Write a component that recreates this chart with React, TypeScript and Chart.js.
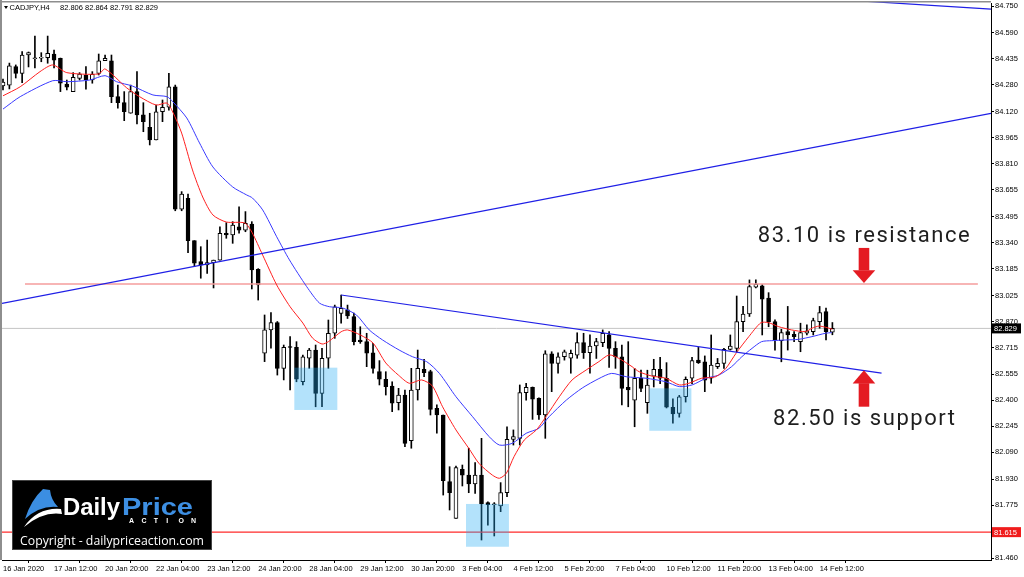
import React, { useEffect, useRef } from "react";
import { Chart, registerables } from "chart.js";

Chart.register(...registerables);

// ---------------- DATA ----------------
const opens = [
  84.274, 84.279, 84.389, 84.349, 84.458, 84.437, 84.44, 84.442, 84.464, 84.439,
  84.285, 84.24, 84.319, 84.339, 84.309, 84.349, 84.424, 84.424, 84.21, 84.174,
  84.111, 84.24, 84.101, 84.027, 83.952, 84.12, 84.147, 84.269, 83.539, 83.604,
  83.352, 83.227, 83.207, 83.221, 83.236, 83.396, 83.386, 83.435, 83.415, 83.45,
  83.181, 82.681, 82.82, 82.863, 82.591, 82.72, 82.716, 82.511, 82.651, 82.7,
  82.442, 82.651, 82.8, 82.919, 82.939, 82.899, 82.76, 82.75, 82.684, 82.571,
  82.526, 82.486, 82.387, 82.432, 82.16, 82.462, 82.585, 82.571, 82.353, 82.313,
  81.916, 81.697, 81.99, 81.955, 81.902, 81.955, 81.791, 81.779, 81.771, 81.85,
  82.168, 82.174, 82.446, 82.478, 82.412, 82.313, 82.677, 82.621, 82.66, 82.651,
  82.67, 82.744, 82.684, 82.724, 82.744, 82.79, 82.71, 82.66, 82.478, 82.402,
  82.532, 82.386, 82.545, 82.585, 82.532, 82.359, 82.323, 82.422, 82.532, 82.64,
  82.63, 82.532, 82.601, 82.621, 82.704, 82.71, 82.869, 82.915, 83.074, 83.082,
  83.009, 82.869, 82.756, 82.81, 82.794, 82.75, 82.8, 82.81, 82.869, 82.929,
  82.806,
];
const highs = [
  84.315, 84.41, 84.399, 84.478, 84.476, 84.571, 84.472, 84.571, 84.488, 84.44,
  84.309, 84.353, 84.353, 84.389, 84.359, 84.464, 84.458, 84.458, 84.279, 84.24,
  84.279, 84.359, 84.174, 84.111, 84.16, 84.19, 84.349, 84.279, 83.644, 83.63,
  83.352, 83.316, 83.356, 83.236, 83.435, 83.459, 83.465, 83.554, 83.525, 83.465,
  83.185, 82.909, 82.923, 82.87, 82.73, 82.78, 82.75, 82.67, 82.71, 82.73,
  82.71, 82.879, 82.968, 83.028, 82.968, 82.92, 82.839, 82.8, 82.74, 82.637,
  82.571, 82.511, 82.472, 82.462, 82.591, 82.7, 82.645, 82.58, 82.373, 82.313,
  82.005, 82.009, 82.015, 82.115, 82.029, 82.174, 81.795, 81.791, 81.91, 82.243,
  82.224, 82.492, 82.502, 82.48, 82.415, 82.696, 82.69, 82.684, 82.7, 82.7,
  82.803, 82.8, 82.79, 82.77, 82.82, 82.81, 82.75, 82.73, 82.75, 82.591,
  82.58, 82.58, 82.645, 82.657, 82.625, 82.41, 82.43, 82.54, 82.657, 82.716,
  82.665, 82.79, 82.65, 82.71, 82.79, 83.022, 82.96, 83.118, 83.118, 83.09,
  83.042, 82.88, 82.824, 82.96, 82.81, 82.86, 82.85, 82.89, 82.96, 82.95,
  82.864,
];
const lows = [
  84.25, 84.256, 84.321, 84.293, 84.387, 84.381, 84.418, 84.409, 84.381, 84.24,
  84.25, 84.24, 84.309, 84.254, 84.29, 84.339, 84.424, 84.174, 84.141, 84.067,
  84.111, 84.047, 84.001, 83.922, 83.952, 84.061, 84.13, 83.53, 83.53, 83.28,
  83.197, 83.128, 83.157, 83.07, 83.236, 83.366, 83.336, 83.396, 83.405, 83.064,
  82.998, 82.631, 82.711, 82.551, 82.522, 82.462, 82.511, 82.492, 82.591, 82.362,
  82.362, 82.591, 82.77, 82.86, 82.888, 82.73, 82.74, 82.601, 82.562, 82.492,
  82.432, 82.333, 82.343, 82.124, 82.115, 82.402, 82.541, 82.313, 82.204, 81.836,
  81.747, 81.697, 81.89, 81.85, 81.846, 81.568, 81.657, 81.592, 81.737, 81.826,
  82.134, 82.134, 82.402, 82.287, 82.287, 82.174, 82.452, 82.562, 82.64, 82.562,
  82.651, 82.65, 82.562, 82.65, 82.72, 82.597, 82.591, 82.373, 82.362, 82.243,
  82.452, 82.323, 82.48, 82.5, 82.355, 82.264, 82.3, 82.39, 82.5, 82.62,
  82.452, 82.502, 82.59, 82.59, 82.7, 82.69, 82.81, 82.9, 83.07, 82.79,
  82.839, 82.7, 82.63, 82.7, 82.75, 82.69, 82.79, 82.79, 82.83, 82.76,
  82.791,
];
const closes = [
  84.297, 84.393, 84.349, 84.458, 84.472, 84.441, 84.445, 84.468, 84.428, 84.29,
  84.266, 84.325, 84.345, 84.309, 84.343, 84.424, 84.439, 84.21, 84.174, 84.12,
  84.24, 84.101, 84.061, 83.952, 84.12, 84.147, 84.269, 83.539, 83.63, 83.352,
  83.217, 83.207, 83.221, 83.236, 83.396, 83.386, 83.445, 83.415, 83.455, 83.177,
  83.088, 82.82, 82.863, 82.591, 82.716, 82.716, 82.526, 82.66, 82.7, 82.442,
  82.651, 82.8, 82.958, 82.949, 82.903, 82.75, 82.75, 82.681, 82.591, 82.526,
  82.482, 82.383, 82.432, 82.144, 82.462, 82.591, 82.565, 82.347, 82.313, 81.922,
  81.85, 81.999, 81.955, 81.902, 81.955, 81.783, 81.779, 81.783, 81.85, 82.168,
  82.184, 82.446, 82.478, 82.407, 82.313, 82.677, 82.621, 82.66, 82.69, 82.681,
  82.744, 82.684, 82.724, 82.75, 82.8, 82.71, 82.66, 82.472, 82.462, 82.532,
  82.472, 82.492, 82.585, 82.532, 82.359, 82.319, 82.422, 82.526, 82.637, 82.625,
  82.52, 82.611, 82.621, 82.704, 82.724, 82.869, 82.915, 83.078, 83.092, 83.003,
  82.869, 82.76, 82.804, 82.79, 82.78, 82.804, 82.814, 82.875, 82.923, 82.81,
  82.829,
];

// moving averages: [bar, price]
const fastMA = [
  [0, 84.215], [2.7, 84.269], [5.8, 84.359], [7.8, 84.399], [10, 84.353], [15, 84.345],
  [16, 84.375], [19.4, 84.262], [21.4, 84.21], [24, 84.16], [25.7, 84.172], [26.6, 84.119],
  [28, 83.993], [29.7, 83.773], [31.3, 83.612], [32.9, 83.505], [35, 83.463], [37.9, 83.457],
  [39, 83.403], [40.7, 83.266], [42.9, 83.088], [45, 82.958], [47, 82.861], [48.5, 82.772],
  [50, 82.736], [51, 82.75], [53, 82.809], [54, 82.82], [56, 82.79], [58, 82.742],
  [60, 82.623], [62, 82.55], [63.7, 82.502], [65.6, 82.522], [67.3, 82.486], [68.9, 82.362],
  [71, 82.224], [73, 82.115], [74.6, 82.025], [76.7, 81.955], [77.8, 81.936], [78.9, 81.966],
  [80.1, 82.065], [81.7, 82.164], [83.6, 82.224], [85.1, 82.303], [87.2, 82.422], [89.2, 82.522],
  [91.4, 82.581], [93.4, 82.631], [95, 82.671], [96.5, 82.651], [98.6, 82.601], [99.7, 82.571],
  [101.7, 82.545], [103.9, 82.532], [106, 82.492], [107.5, 82.502], [109.5, 82.532], [111.7, 82.541],
  [113.3, 82.591], [114.9, 82.681], [116.9, 82.78], [118.8, 82.863], [120, 82.863], [121.6, 82.839],
  [123.6, 82.82], [125.8, 82.81], [126.8, 82.83], [127.9, 82.843], [128.9, 82.836], [130, 82.824],
];
const slowMA = [
  [0, 84.136], [2.7, 84.21], [7.8, 84.305], [10, 84.299], [13.6, 84.309], [16, 84.335],
  [17.8, 84.299], [20.3, 84.273], [23.5, 84.22], [25.7, 84.21], [26.6, 84.18], [28.8, 84.083],
  [30.8, 83.934], [32.9, 83.791], [36, 83.672], [38.2, 83.624], [39.1, 83.606], [40.7, 83.535],
  [42.9, 83.375], [44.9, 83.237], [47.6, 83.078], [49.6, 82.98], [51.2, 82.958], [53.2, 82.951],
  [55.4, 82.909], [57.4, 82.82], [59.5, 82.76], [62.1, 82.7], [64.2, 82.66], [66.4, 82.631],
  [68.4, 82.561], [71, 82.422], [73.6, 82.303], [76.2, 82.184], [77.8, 82.134], [79.8, 82.144],
  [82, 82.204], [84, 82.234], [85.6, 82.303], [88.3, 82.402], [90.8, 82.474], [93.4, 82.53],
  [95.4, 82.561], [97.7, 82.541], [100.8, 82.532], [103.9, 82.511], [106, 82.482], [108, 82.492],
  [110.2, 82.532], [112.2, 82.551], [114.2, 82.601], [115.8, 82.66], [117.4, 82.71], [118.9, 82.75],
  [120.5, 82.756], [122.7, 82.76], [124.7, 82.764], [126.8, 82.78], [128.9, 82.8], [129.9, 82.804],
];

// drawn objects: [bar, price] end points
const risingTrend = [[-0.16, 82.978], [154.86, 84.11]];
const fallingTrend = [[53, 83.028], [137.7, 82.563]];
const topTrend = [[120, 84.815], [154.86, 84.731]];
const resistanceLine = [[3.45, 83.094], [152.8, 83.094]];
const supportLine = [[-1, 81.615], [160, 81.615]];
const bidLine = [[-1, 82.829], [160, 82.829]];

// highlighted zones: bar range and price range
const zoneBars = [[45.66, 52.4], [72.57, 79.3], [101.3, 107.9]];
const zonePrices = [[82.343, 82.595], [81.528, 81.783], [82.219, 82.472]];

const xTickBars = [0, 8, 16, 24, 32, 40, 48, 56, 64, 72, 80, 88, 96, 104, 112, 120, 128];
const xTickLabels = [
  "16 Jan 2020", "17 Jan 12:00", "20 Jan 20:00", "22 Jan 04:00", "23 Jan 12:00",
  "24 Jan 20:00", "28 Jan 04:00", "29 Jan 12:00", "30 Jan 20:00", "3 Feb 04:00",
  "4 Feb 12:00", "5 Feb 20:00", "7 Feb 04:00", "10 Feb 12:00", "11 Feb 20:00",
  "13 Feb 04:00", "14 Feb 12:00",
];
const yTickValues = [
  84.75, 84.59, 84.435, 84.28, 84.12, 83.965, 83.81, 83.655, 83.495, 83.34, 83.185,
  83.025, 82.87, 82.715, 82.555, 82.4, 82.245, 82.09, 81.93, 81.775, 81.615, 81.46,
];

const symbolTitle = "CADJPY,H4";
const lastOHLC = "82.806 82.864 82.791 82.829";
const bidPrice = 82.829;
const supportPrice = 81.615;
const resistanceText = "83.10 is resistance";
const supportText = "82.50 is support";

// ---------------- helpers ----------------
const X_MIN = -0.157;
const X_MAX = 154.86;
const Y_MIN = 81.449;
const Y_MAX = 84.768;
const AXIS_FONT = "Liberation Sans";

function toXY(arr: number[][]) {
  return arr.map(([x, y]) => ({ x, y }));
}

function spacedText(ctx: CanvasRenderingContext2D, text: string, x: number, y: number, width: number) {
  const c = ctx as any;
  if ("letterSpacing" in c) c.letterSpacing = "0px";
  const w0 = ctx.measureText(text).width;
  if ("letterSpacing" in c && text.length > 1) {
    c.letterSpacing = (width - w0) / (text.length - 1) + "px";
    ctx.fillText(text, x, y);
    c.letterSpacing = "0px";
  } else {
    ctx.save();
    ctx.translate(x, y);
    ctx.scale(width / w0, 1);
    ctx.fillText(text, 0, 0);
    ctx.restore();
  }
}

function stretchedText(ctx: CanvasRenderingContext2D, text: string, x: number, y: number, width: number) {
  const w0 = ctx.measureText(text).width;
  ctx.save();
  ctx.translate(x, y);
  ctx.scale(width / w0, 1);
  ctx.fillText(text, 0, 0);
  ctx.restore();
}

function drawLogo(ctx: CanvasRenderingContext2D) {
  ctx.save();
  ctx.fillStyle = "#000";
  ctx.fillRect(12, 480, 200, 70);
  ctx.strokeStyle = "#444";
  ctx.lineWidth = 1;
  ctx.strokeRect(12.5, 480.5, 199, 69);
  // flame
  ctx.fillStyle = "#3b8ee2";
  ctx.beginPath();
  ctx.moveTo(25, 519);
  ctx.quadraticCurveTo(31, 500, 43, 489);
  ctx.lineTo(50, 490);
  ctx.quadraticCurveTo(51, 500, 58, 507);
  ctx.quadraticCurveTo(40, 505, 25, 519);
  ctx.closePath();
  ctx.fill();
  // swoosh
  ctx.fillStyle = "#fff";
  ctx.beginPath();
  ctx.moveTo(24, 527);
  ctx.quadraticCurveTo(38, 507, 61, 509);
  ctx.lineTo(62, 514);
  ctx.quadraticCurveTo(43, 511, 24, 527);
  ctx.closePath();
  ctx.fill();
  // words
  ctx.textBaseline = "alphabetic";
  ctx.textAlign = "left";
  ctx.font = "bold 23px 'Liberation Sans'";
  ctx.fillStyle = "#fff";
  stretchedText(ctx, "Daily", 63, 515, 57);
  ctx.fillStyle = "#3d8fe3";
  stretchedText(ctx, "Price", 122, 515, 71);
  ctx.fillStyle = "#fff";
  ctx.font = "bold 7px 'Liberation Sans'";
  const act = "ACTION";
  for (let k = 0; k < act.length; k++) {
    ctx.fillText(act[k], 129 + k * 12.4, 523);
  }
  ctx.font = "13px 'Open Sans'";
  stretchedText(ctx, "Copyright - dailypriceaction.com", 20, 545, 184);
  ctx.restore();
}

const zonePlugin = {
  id: "zones",
  afterDatasetsDraw(chart: any) {
    const { ctx, scales, chartArea } = chart;
    const xs = scales.x;
    const ys = scales.y;
    ctx.save();
    ctx.beginPath();
    ctx.rect(chartArea.left, chartArea.top, chartArea.right - chartArea.left, chartArea.bottom - chartArea.top);
    ctx.clip();
    ctx.fillStyle = "rgba(38,172,243,0.35)";
    zoneBars.forEach((b, k) => {
      const x1 = xs.getPixelForValue(b[0]);
      const x2 = xs.getPixelForValue(b[1]);
      const y1 = ys.getPixelForValue(zonePrices[k][1]);
      const y2 = ys.getPixelForValue(zonePrices[k][0]);
      ctx.fillRect(x1, y1, x2 - x1, y2 - y1);
    });
    ctx.restore();
  },
};

const overlayPlugin = {
  id: "overlay",
  afterDraw(chart: any) {
    const { ctx, scales, chartArea } = chart;
    const xs = scales.x;
    const ys = scales.y;
    ctx.save();
    // frame
    ctx.fillStyle = "#8e8e8e";
    ctx.fillRect(0, 1, chartArea.right, 1.5);
    ctx.fillRect(0, 0, 2, chartArea.bottom);

    // header
    ctx.fillStyle = "#000";
    ctx.beginPath();
    ctx.moveTo(4, 6);
    ctx.lineTo(8, 6);
    ctx.lineTo(6, 9);
    ctx.closePath();
    ctx.fill();
    ctx.font = `7.5px '${AXIS_FONT}'`;
    ctx.textBaseline = "alphabetic";
    ctx.textAlign = "left";
    ctx.fillStyle = "#000";
    ctx.fillText(symbolTitle, 9.5, 10);
    ctx.fillText(lastOHLC, 60, 10);

    // price labels on the axis
    const drawTag = (price: number, bg: string) => {
      const y = ys.getPixelForValue(price);
      ctx.fillStyle = bg;
      ctx.fillRect(chartArea.right + 1, y - 5, 29, 10);
      ctx.fillStyle = "#fff";
      ctx.font = `7.5px '${AXIS_FONT}'`;
      ctx.textBaseline = "middle";
      ctx.fillText(price.toFixed(3), chartArea.right + 3, y + 0.5);
    };
    drawTag(bidPrice, "#000");
    drawTag(supportPrice, "#f01c1c");

    // annotation texts
    ctx.fillStyle = "#1e1e1e";
    ctx.textBaseline = "alphabetic";
    ctx.font = "22px Roboto";
    spacedText(ctx, resistanceText, xs.getPixelForValue(118.3), ys.getPixelForValue(83.346), 212);
    spacedText(ctx, supportText, xs.getPixelForValue(120.7), ys.getPixelForValue(82.253), 182);

    // arrows
    ctx.fillStyle = "#e41b22";
    const cx = xs.getPixelForValue(134.95);
    const downTip = ys.getPixelForValue(83.1);
    ctx.fillRect(cx - 5.3, downTip - 35, 10.6, 22.5);
    ctx.beginPath();
    ctx.moveTo(cx - 11.3, downTip - 12.7);
    ctx.lineTo(cx + 11.3, downTip - 12.7);
    ctx.lineTo(cx, downTip);
    ctx.closePath();
    ctx.fill();
    const upTip = ys.getPixelForValue(82.58);
    ctx.fillRect(cx - 5.3, upTip + 13, 10.6, 23.5);
    ctx.beginPath();
    ctx.moveTo(cx - 11.3, upTip + 13.3);
    ctx.lineTo(cx + 11.3, upTip + 13.3);
    ctx.lineTo(cx, upTip);
    ctx.closePath();
    ctx.fill();

    drawLogo(ctx);
    ctx.restore();
  },
};

export default function App() {
  const canvasRef = useRef<HTMLCanvasElement | null>(null);

  useEffect(() => {
    const canvas = canvasRef.current;
    if (!canvas) return;

    const wickData = opens.map((_, i) => ({ x: i, y: [lows[i], highs[i]] }));
    const bodyData = opens.map((o, i) => ({ x: i, y: [o, closes[i]] }));
    const bodyColors = opens.map((o, i) => (closes[i] >= o ? "#ffffff" : "#000000"));

    const lineDs = (data: number[][], color: string, width: number, order: number, extra: any = {}) => ({
      type: "line" as const,
      data: toXY(data),
      borderColor: color,
      borderWidth: width,
      pointRadius: 0,
      pointHoverRadius: 0,
      fill: false,
      tension: 0,
      order,
      ...extra,
    });

    const chart = new Chart(canvas, {
      type: "bar",
      data: {
        datasets: [
          lineDs(bidLine, "#c4c4c4", 1, 10),
          {
            type: "bar",
            data: wickData as any,
            backgroundColor: "#000",
            borderWidth: 0,
            barThickness: 1,
            grouped: false,
            order: 6,
          } as any,
          {
            type: "bar",
            data: bodyData as any,
            backgroundColor: bodyColors,
            borderColor: "#000",
            borderWidth: 1,
            borderSkipped: false,
            barThickness: 4,
            grouped: false,
            order: 5,
          } as any,
          lineDs(resistanceLine, "#f49c9c", 1.6, 4),
          lineDs(supportLine, "#ff2a2a", 1.3, 4),
          lineDs(slowMA, "#3a3aff", 1, 3, { tension: 0.25 }),
          lineDs(fastMA, "#ff2020", 1, 2, { tension: 0.25 }),
          lineDs(risingTrend, "#1f1fe6", 1.2, 1),
          lineDs(fallingTrend, "#1f1fe6", 1.2, 1),
          lineDs(topTrend, "#1f1fe6", 1.2, 1, { clip: { left: 0, top: 2, right: 0, bottom: 0 } }),
        ] as any,
      },
      options: {
        animation: false,
        responsive: false,
        devicePixelRatio: 1,
        events: [],
        layout: { padding: { left: 2, top: 3, right: 0, bottom: 0 }, autoPadding: false } as any,
        plugins: {
          legend: { display: false },
          tooltip: { enabled: false },
          title: { display: false },
        },
        scales: {
          x: {
            type: "linear",
            min: X_MIN,
            max: X_MAX,
            offset: false,
            grid: {
              display: true,
              drawOnChartArea: false,
              drawTicks: true,
              tickLength: 3,
              color: "#000",
            },
            border: { display: true, color: "#000", width: 1 },
            ticks: {
              autoSkip: false,
              maxRotation: 0,
              minRotation: 0,
              align: "start",
              padding: 1,
              color: "#000",
              font: { family: AXIS_FONT, size: 7.5 },
              callback: (v: any) => {
                const k = xTickBars.indexOf(Number(v));
                return k >= 0 ? xTickLabels[k] : "";
              },
            },
            afterBuildTicks: (axis: any) => {
              axis.ticks = xTickBars.map((v) => ({ value: v }));
            },
            afterFit: (axis: any) => {
              axis.height = 17;
              axis.paddingLeft = 0;
              axis.paddingRight = 0;
            },
          } as any,
          y: {
            type: "linear",
            position: "right",
            min: Y_MIN,
            max: Y_MAX,
            grid: {
              display: true,
              drawOnChartArea: false,
              drawTicks: true,
              tickLength: 3,
              color: "#000",
            },
            border: { display: true, color: "#000", width: 1 },
            ticks: {
              autoSkip: false,
              padding: 1,
              color: "#000",
              font: { family: AXIS_FONT, size: 7.5 },
              callback: (v: any) => Number(v).toFixed(3),
            },
            afterBuildTicks: (axis: any) => {
              axis.ticks = yTickValues.map((v) => ({ value: v }));
            },
            afterFit: (axis: any) => {
              axis.width = 33;
              axis.paddingTop = 0;
              axis.paddingBottom = 0;
            },
          } as any,
        },
      },
      plugins: [zonePlugin, overlayPlugin],
    });

    return () => {
      chart.destroy();
    };
  }, []);

  return (
    <div style={{ position: "fixed", left: 0, top: 0, width: 1024, height: 577, background: "#fff" }}>
      <canvas ref={canvasRef} width={1024} height={577} style={{ display: "block", width: 1024, height: 577 }} />
    </div>
  );
}
